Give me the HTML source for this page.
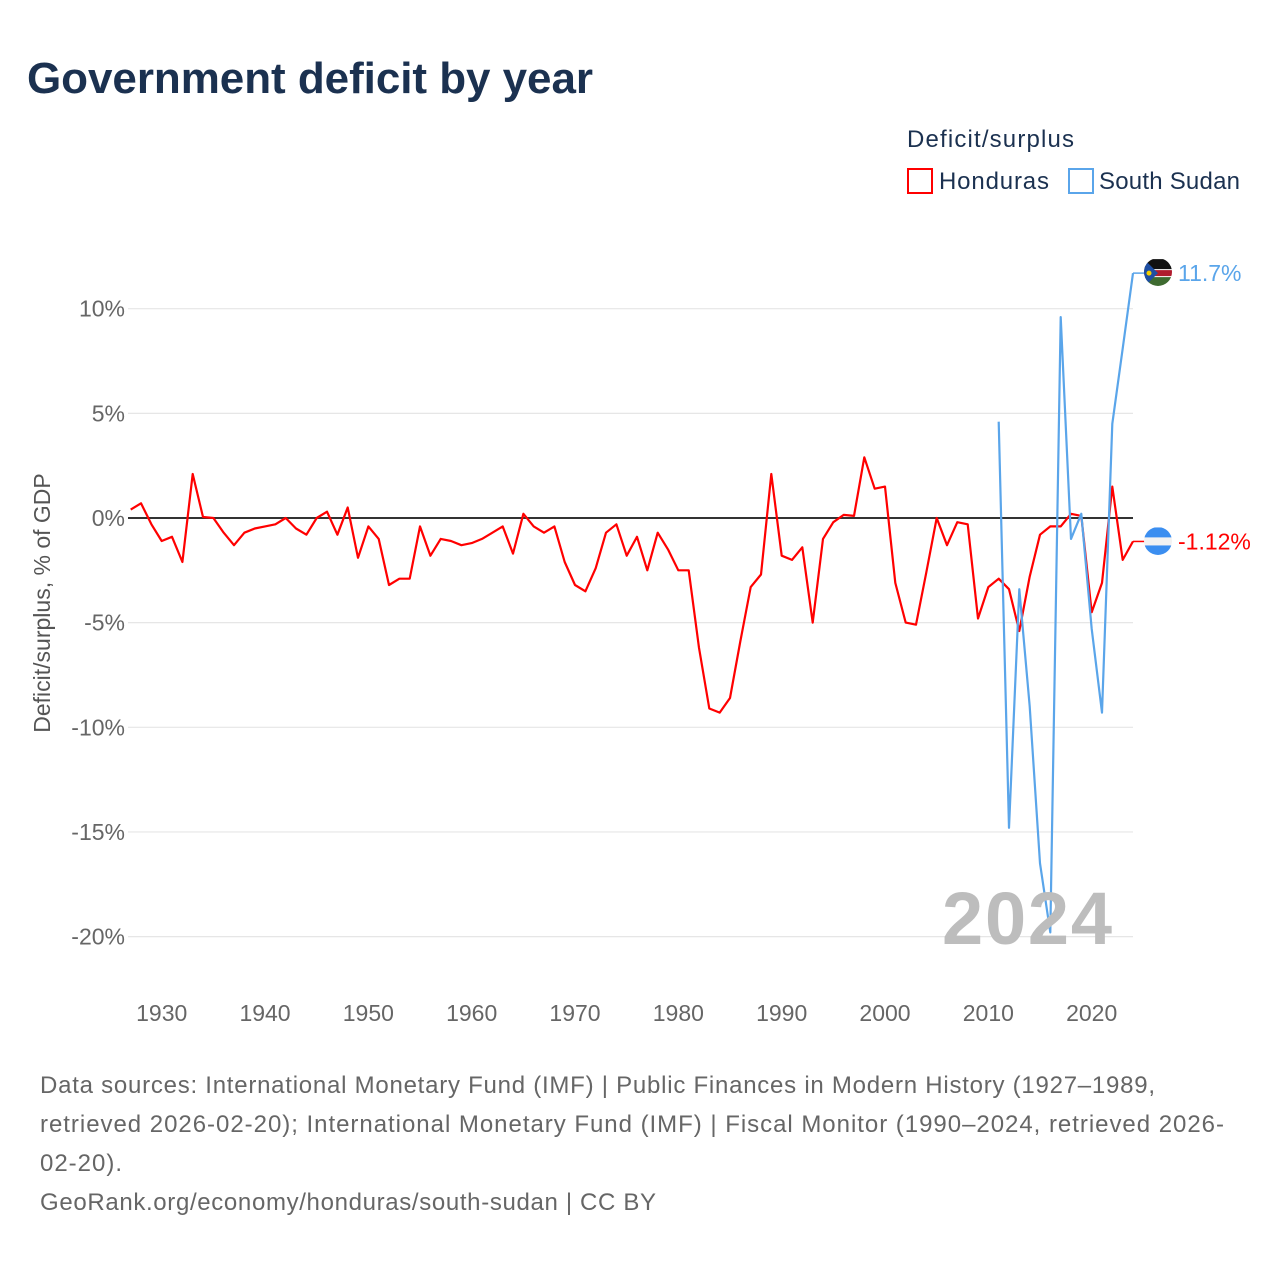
<!DOCTYPE html>
<html><head><meta charset="utf-8"><style>
body{margin:0;background:#fff;font-family:"Liberation Sans",sans-serif}
svg{display:block}
</style></head><body>
<svg id="chart" width="1280" height="1280" viewBox="0 0 1280 1280">
<defs>
<clipPath id="c1"><circle cx="1158" cy="272" r="14"/></clipPath>
<clipPath id="c2"><circle cx="1158" cy="541" r="14"/></clipPath>
</defs>
<text x="27" y="93" font-size="44" font-weight="bold" fill="#1b3150" textLength="566">Government deficit by year</text>
<g>
<text x="907" y="147" font-size="24" fill="#1b3150" textLength="167">Deficit/surplus</text>
<g><rect x="908" y="169" width="24" height="24" fill="none" stroke="#f00" stroke-width="2"/><text x="939" y="189" font-size="24" fill="#1b3150" textLength="110">Honduras</text></g>
<g><rect x="1069" y="169" width="24" height="24" fill="none" stroke="#5aa5ea" stroke-width="2"/><text x="1099" y="189" font-size="24" fill="#1b3150" textLength="141">South Sudan</text></g>
</g>
<g id="grid"></g><g id="series"></g><g id="labels"></g>
<text x="942" y="944" font-size="74" font-weight="bold" fill="#bdbdbd" textLength="170">2024</text>
<text transform="translate(50,603) rotate(-90)" font-size="23" fill="#555" text-anchor="middle">Deficit/surplus, % of GDP</text>
<g font-size="24" fill="#666">
<text x="40" y="1093" textLength="1115">Data sources: International Monetary Fund (IMF) | Public Finances in Modern History (1927–1989,</text>
<text x="40" y="1132" textLength="1184">retrieved 2026-02-20); International Monetary Fund (IMF) | Fiscal Monitor (1990–2024, retrieved 2026-</text>
<text x="40" y="1171" textLength="82">02-20).</text>
<text x="40" y="1210" textLength="616">GeoRank.org/economy/honduras/south-sudan | CC BY</text>
</g>
</svg>
<script>
const yTicks=[10,5,0,-5,-10,-15,-20];
const xTicks=[1930,1940,1950,1960,1970,1980,1990,2000,2010,2020];
const hondurasStart=1927;
const hondurasValues=[0.4,0.7,-0.3,-1.1,-0.9,-2.1,2.1,0.05,0,-0.7,-1.3,-0.7,-0.5,-0.4,-0.3,0,-0.5,-0.8,0,0.3,-0.8,0.5,-1.9,-0.4,-1.0,-3.2,-2.9,-2.9,-0.4,-1.8,-1.0,-1.1,-1.3,-1.2,-1.0,-0.7,-0.4,-1.7,0.2,-0.4,-0.7,-0.4,-2.1,-3.2,-3.5,-2.4,-0.7,-0.3,-1.8,-0.9,-2.5,-0.7,-1.5,-2.5,-2.5,-6.2,-9.1,-9.3,-8.6,-5.9,-3.3,-2.7,2.1,-1.8,-2.0,-1.4,-5.0,-1.0,-0.2,0.15,0.1,2.9,1.4,1.5,-3.1,-5.0,-5.1,-2.6,0,-1.3,-0.2,-0.3,-4.8,-3.3,-2.9,-3.4,-5.4,-2.8,-0.8,-0.4,-0.4,0.2,0.1,-4.5,-3.1,1.5,-2.0,-1.12];
const sudanStart=2011;
const sudanValues=[4.6,-14.8,-3.4,-9.0,-16.5,-19.8,9.6,-1.0,0.2,-5.3,-9.3,4.5,8.1,11.7];
const NS="http://www.w3.org/2000/svg";
const X=y=>130.7+(y-1927)*10.333;
const Y=v=>518-v*20.93;
function mk(tag,attrs,parent){const e=document.createElementNS(NS,tag);for(const k in attrs)e.setAttribute(k,attrs[k]);parent.appendChild(e);return e;}
const grid=document.getElementById('grid');
yTicks.forEach(t=>{
  const l=mk('line',{x1:128,x2:1133,y1:Y(t),y2:Y(t),stroke:t===0?'#333':'#e6e6e6','stroke-width':t===0?2:1.2},grid);
  
  
  const tx=mk('text',{x:125,y:Y(t)+8,'font-size':23,fill:'#666','text-anchor':'end'},grid);
  tx.textContent=t+'%';
  
  
});
xTicks.forEach(t=>{
  const tx=mk('text',{x:X(t),y:1021,'font-size':23,fill:'#666','text-anchor':'middle'},grid);
  tx.textContent=t;
  
  
});
const ser=document.getElementById('series');
function line(start,vals,color,name){
  const d=vals.map((v,i)=>(i?'L':'M')+X(start+i).toFixed(1)+','+Y(v).toFixed(1)).join('');
  const p=mk('path',{d:d,fill:'none',stroke:color,'stroke-width':2.2,'stroke-linejoin':'round'},ser);
  
  
}
line(hondurasStart,hondurasValues,'#f00','honduras-line');
line(sudanStart,sudanValues,'#5aa5ea','south-sudan-line');
const lab=document.getElementById('labels');
function endLabel(val,color,name,text,clip,flag){
  const y=Y(val),x1=X(2024);
  const c=mk('line',{x1:x1,x2:1146,y1:y,y2:y,stroke:color,'stroke-width':1.5},lab);
  
  
  const g=mk('g',{'clip-path':'url(#'+clip+')'},lab);
  
  
  flag(g,1158,y);
  const t=mk('text',{x:1178,y:y+8,'font-size':23,fill:color},lab);
  t.textContent=text;
  
  
}
endLabel(sudanValues[sudanValues.length-1],'#5aa5ea','south-sudan','11.7%','c1',(g,cx,cy)=>{
  mk('rect',{x:cx-14,y:cy-14,width:28,height:28,fill:'#fff'},g);
  mk('rect',{x:cx-14,y:cy-14,width:28,height:10,fill:'#111'},g);
  mk('rect',{x:cx-14,y:cy-3,width:28,height:6,fill:'#b01c2e'},g);
  mk('rect',{x:cx-14,y:cy+4,width:28,height:10,fill:'#3e6b30'},g);
  mk('path',{d:`M${cx-14},${cy-14}L${cx},${cy}L${cx-14},${cy+14}Z`,fill:'#1e4fa3'},g);
  mk('circle',{cx:cx-9,cy:cy,r:2.5,fill:'#f5d000'},g);
});
endLabel(hondurasValues[hondurasValues.length-1],'#f00','honduras','-1.12%','c2',(g,cx,cy)=>{
  mk('rect',{x:cx-14,y:cy-14,width:28,height:10,fill:'#3b8ef0'},g);
  mk('rect',{x:cx-14,y:cy-4,width:28,height:8,fill:'#f2f2f2'},g);
  mk('rect',{x:cx-14,y:cy+4,width:28,height:10,fill:'#3b8ef0'},g);
});
</script>
</body></html>
